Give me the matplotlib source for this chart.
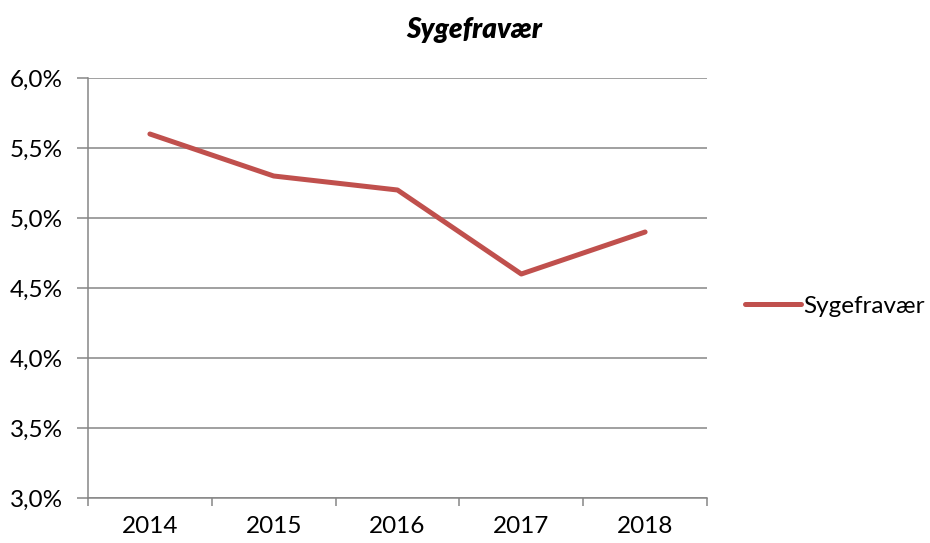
import matplotlib
matplotlib.use("Agg")
import matplotlib.pyplot as plt
from matplotlib.ticker import FixedLocator, FuncFormatter

years = ["2014", "2015", "2016", "2017", "2018"]
sygefravaer = [5.6, 5.3, 5.2, 4.6, 4.9]
y_ticks = [3.0, 3.5, 4.0, 4.5, 5.0, 5.5, 6.0]

plt.rcParams['font.family'] = ['Lato', 'DejaVu Sans']

fig = plt.figure(figsize=(9.3, 5.43), dpi=100)
ax = fig.add_axes([88 / 930, 45 / 543, 619 / 930, 420 / 543])

x = list(range(len(years)))
line, = ax.plot(x, sygefravaer, color="#C0504D", linewidth=3.6,
                solid_capstyle="round", label="Sygefravær", zorder=3)

grid_color = "#868686"
ax.set_xlim(-0.5, len(years) - 0.5)
ax.set_ylim(3.0, 6.0)
ax.set_yticks(y_ticks)
ax.yaxis.set_major_formatter(FuncFormatter(lambda v, p: f"{v:.1f}%".replace(".", ",")))
ax.grid(axis="y", color=grid_color, linewidth=1.1, zorder=0)

ax.set_xticks(x)
ax.set_xticklabels(years)
ax.xaxis.set_minor_locator(FixedLocator([i - 0.5 for i in range(len(years) + 1)]))
ax.tick_params(axis="x", which="major", length=0, labelsize=17.5, pad=13, colors="black")
ax.tick_params(axis="x", which="minor", length=6, width=1.1, direction="out", color=grid_color)
ax.tick_params(axis="y", length=8, width=1.1, color=grid_color, labelsize=17.5, pad=10)

for side in ["top", "right"]:
    ax.spines[side].set_visible(False)
for side in ["left", "bottom"]:
    ax.spines[side].set_color(grid_color)
    ax.spines[side].set_linewidth(1.1)

fig.text(474 / 930, 1 - 30 / 543, "Sygefravær", ha="center", va="center",
         fontsize=20, fontweight="heavy", fontstyle="italic")

fig.legend(handles=[line], loc="center left", bbox_to_anchor=(745 / 930, 1 - 306 / 543),
           frameon=False, fontsize=17.5, handlelength=2.3, handletextpad=0.1,
           borderaxespad=0, borderpad=0)

fig.savefig("out.png", dpi=100)
